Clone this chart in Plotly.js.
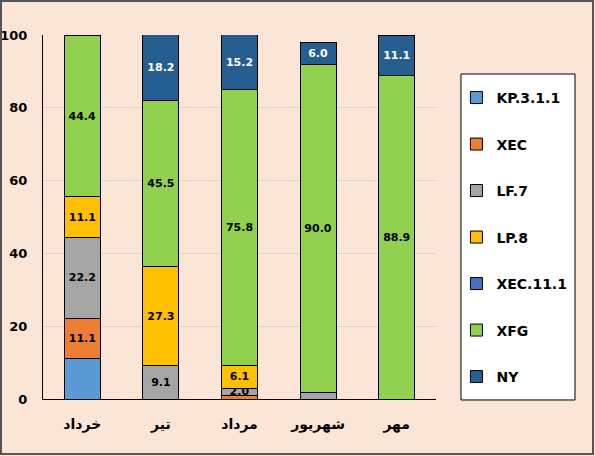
<!DOCTYPE html>
<html>
<head>
<meta charset="utf-8">
<script src="https://cdn.plot.ly/plotly-3.0.1.min.js"></script>
<style>
  html, body { margin: 0; padding: 0; background: #FBE5D6; }
  #chart { width: 595px; height: 456px; }
</style>
</head>
<body>
<div id="chart"></div>
<script>
// months (Persian calendar)
const months = ['خرداد', 'تیر', 'مرداد', 'شهریور', 'مهر'];

// share of each variant per month (%), null = not present
const kp311  = [11.1, null, null, null, null];
const xec    = [11.1, null, 1.0,  null, null];
const lf7    = [22.2, 9.1,  2.0,  1.9,  null];
const lp8    = [11.1, 27.3, 6.1,  null, null];
const xec111 = [null, null, null, null, null];
const xfg    = [44.4, 45.5, 75.8, 90.0, 88.9];
const ny     = [null, 18.2, 15.2, 6.0,  11.1];

const seriesNames  = ['KP.3.1.1', 'XEC', 'LF.7', 'LP.8', 'XEC.11.1', 'XFG', 'NY'];
const seriesValues = [kp311, xec, lf7, lp8, xec111, xfg, ny];
const seriesColors = ['#5B9BD5', '#ED7D31', '#A5A5A5', '#FFC000', '#4472C4', '#92D050', '#255E91'];
const labelColors  = ['#000', '#000', '#000', '#000', '#fff', '#000', '#fff'];
// the original has no data labels on the KP.3.1.1 series
const showLabels   = [false, true, true, true, true, true, true];

const FONT = 'DejaVu Sans';

// labels only on segments big enough (the chart hides the tiny ones)
const traces = seriesNames.map((name, i) => ({
    type: 'bar',
    name: name,
    x: months,
    y: seriesValues[i],
    legendgroup: name,
    text: seriesValues[i].map(v => (showLabels[i] && v !== null && v >= 2) ? v.toFixed(1) : ''),
    textposition: 'inside',
    insidetextanchor: 'middle',
    constraintext: 'none',
    textangle: 0,
    textfont: { family: FONT, size: 11, weight: 'bold', color: labelColors[i] },
    marker: { color: seriesColors[i], line: { color: '#000', width: 1 } },
    hoverinfo: 'name+y'
}));

const layout = {
    width: 595,
    height: 456,
    margin: { l: 43, r: 159, t: 35, b: 57 },
    paper_bgcolor: '#FBE5D6',
    plot_bgcolor: '#FBE5D6',
    barmode: 'stack',
    bargap: 0.54,
    font: { family: FONT, size: 13, color: '#000', weight: 'bold' },
    xaxis: {
        showline: true,
        linecolor: '#000',
        linewidth: 1,
        ticks: '',
        ticklabelstandoff: 12,
        tickfont: { family: FONT, size: 14, weight: 'bold' },
        fixedrange: true
    },
    yaxis: {
        range: [0, 100],
        dtick: 20,
        showline: true,
        linecolor: '#000',
        linewidth: 1,
        gridcolor: '#DDD3CC',
        zeroline: false,
        ticks: '',
        ticklabelstandoff: 12,
        tickfont: { family: FONT, size: 13, weight: 'bold' },
        fixedrange: true
    },
    showlegend: true,
    legend: {
        x: 1.052,
        xanchor: 'left',
        y: 0.871,
        yanchor: 'top',
        bgcolor: 'rgba(0,0,0,0)',
        borderwidth: 0,
        traceorder: 'grouped',
        tracegroupgap: 25.3,
        font: { family: FONT, size: 14, weight: 'bold' }
    },
    shapes: [
        // legend frame
        { type: 'rect', xref: 'paper', yref: 'paper', x0: 1.0636, x1: 1.3537, y0: -0.0027, y1: 0.8929,
          fillcolor: '#fff', line: { color: '#000', width: 1 }, layer: 'below' },
        // outer chart border
        { type: 'rect', xref: 'paper', yref: 'paper', x0: -0.1069, x1: 1.3995, y0: -0.1511, y1: 1.0934,
          line: { color: '#555', width: 2 } }
    ]
};

Plotly.newPlot('chart', traces, layout, { displayModeBar: false, responsive: false });
</script>
</body>
</html>
